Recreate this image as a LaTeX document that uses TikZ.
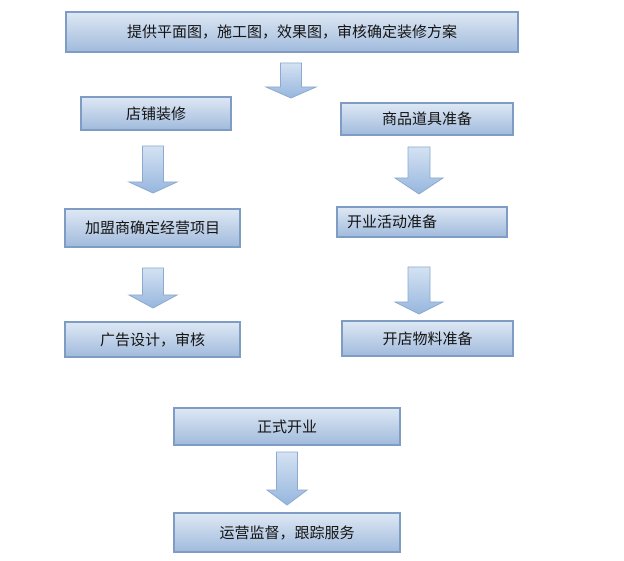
\documentclass[tikz,border=0pt]{standalone}
\usepackage{fontspec}
\setmainfont{Noto Sans CJK SC}
\begin{document}
\begin{tikzpicture}[x=1pt,y=-1pt,
  box/.style={draw={rgb,255:red,126;green,156;blue,196}, line width=1.2pt,
    top color={rgb,255:red,222;green,232;blue,244},
    bottom color={rgb,255:red,160;green,186;blue,220},
    inner sep=0pt, outer sep=0pt, text={rgb,255:red,20;green,20;blue,20},
    font=\fontsize{15}{17}\selectfont},
  barrow/.style={draw={rgb,255:red,140;green,170;blue,206}, line width=0.8pt,
    top color={rgb,255:red,212;green,226;blue,242},
    bottom color={rgb,255:red,150;green,182;blue,222}}]
\useasboundingbox[fill=white] (0,0) rectangle (624,561);
\newcommand\mkbox[6]{\node[box, minimum width=#3-#2, minimum height=#5-#4] (#1) at ({(#2+#3)/2},{(#4+#5)/2}) {#6};}
% #1 center x, #2 top, #3 head start, #4 tip, #5 half shaft, #6 half head
\newcommand\mkarrow[6]{\path[barrow] (#1-#5,#2) -- (#1+#5,#2) -- (#1+#5,#3) -- (#1+#6,#3) -- (#1,#4) -- (#1-#6,#3) -- (#1-#5,#3) -- cycle;}
\mkbox{b1}{66}{518}{12}{52}{提供平面图，施工图，效果图，审核确定装修方案}
\mkbox{b2}{81}{231}{97}{130}{店铺装修}
\mkbox{b3}{341}{513}{103}{135}{商品道具准备}
\mkbox{b4}{65}{240}{209}{247}{加盟商确定经营项目}
\node[box, minimum width=170, minimum height=30, text width=150, align=left] (b5) at (422,222) {开业活动准备};
\mkbox{b6}{65}{240}{322}{357}{广告设计，审核}
\mkbox{b7}{342}{513}{321}{356}{开店物料准备}
\mkbox{b8}{174}{400}{408}{445}{正式开业}
\mkbox{b9}{174}{400}{513}{552}{运营监督，跟踪服务}
\mkarrow{291}{63}{87}{98}{10.5}{25}
\mkarrow{153}{146}{182}{193}{10.5}{24}
\mkarrow{153}{268}{295}{308}{10.5}{24}
\mkarrow{419}{147}{178}{194}{11}{24}
\mkarrow{419}{267}{302}{314}{11}{24}
\mkarrow{287}{452}{490}{505}{10.5}{20}
\end{tikzpicture}
\end{document}
